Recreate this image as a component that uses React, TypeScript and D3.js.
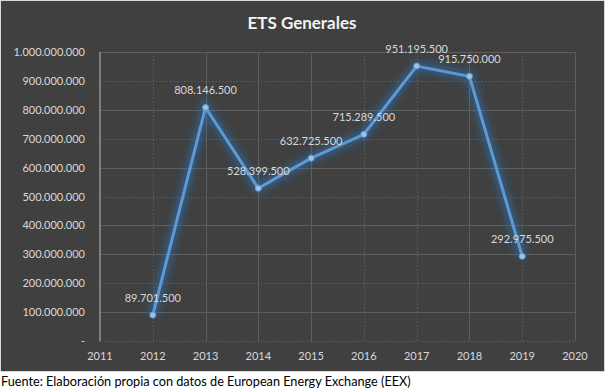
import React from "react";
import * as d3 from "d3";

const years = [2012, 2013, 2014, 2015, 2016, 2017, 2018, 2019];
const values = [89701500, 808146500, 528399500, 632725500, 715289500, 951195500, 915750000, 292975500];
const yTicks = [0, 100000000, 200000000, 300000000, 400000000, 500000000, 600000000, 700000000, 800000000, 900000000, 1000000000];
const xTicks = [2011, 2012, 2013, 2014, 2015, 2016, 2017, 2018, 2019, 2020];
// rows/columns that show as dotted in the original rendering
const dottedY = [0, 200000000, 500000000, 700000000, 900000000];
const dottedX = [2012, 2016, 2017, 2019];

const W = 605;
const H = 392;
const PANEL_H = 372;
const margin = { left: 100, right: 30, top: 52, bottom: 31 };
const font = "Lato, 'Open Sans', sans-serif";

const es = d3.formatLocale({ decimal: ",", thousands: ".", grouping: [3], currency: ["", "€"] });
const fmt = es.format(",.0f");

const App = () => {
  const x = d3.scaleLinear().domain([2011, 2020]).range([margin.left, W - margin.right]);
  const y = d3.scaleLinear().domain([0, 1000000000]).range([PANEL_H - margin.bottom, margin.top]);

  const pts = years.map((yr, i) => ({ yr, v: values[i] }));
  const line = d3.line<{ yr: number; v: number }>()
    .x(d => x(d.yr))
    .y(d => y(d.v));

  return (
    <svg width={W} height={H} style={{ position: "absolute", left: 0, top: 0, display: "block" }}>
      <defs>
        <filter id="glow" x="-20%" y="-20%" width="140%" height="140%">
          <feGaussianBlur stdDeviation="3.5" />
        </filter>
      </defs>
      <rect x={0} y={0} width={W} height={H} fill="#ffffff" />
      <rect x={0.5} y={0.5} width={W - 1} height={PANEL_H - 1} fill="#404040" stroke="#d9d9d9" strokeWidth={1} />

      <text x={302} y={29} textAnchor="middle" fontFamily={font} fontWeight="bold" fontSize={17} fill="#f2f2f2">
        ETS Generales
      </text>

      {yTicks.map(t => (
        <line key={"gy" + t} x1={x(2011)} x2={x(2020)} y1={Math.round(y(t)) + 0.5} y2={Math.round(y(t)) + 0.5}
          stroke="#5e5e5e" strokeWidth={1} strokeDasharray={dottedY.includes(t) ? "1.5,2" : undefined} />
      ))}
      {xTicks.map(t => (
        <line key={"gx" + t} x1={Math.round(x(t)) + 0.5} x2={Math.round(x(t)) + 0.5} y1={y(1000000000)} y2={y(0)}
          stroke="#5e5e5e" strokeWidth={1} strokeDasharray={dottedX.includes(t) ? "1.5,2" : undefined} />
      ))}
      <line x1={x(2011)} x2={x(2011)} y1={y(1000000000)} y2={y(0)} stroke="#7f7f7f" strokeWidth={2} />

      {yTicks.map(t => (
        <text key={"ty" + t} x={margin.left - 15} y={y(t) + 4} textAnchor="end" fontFamily={font} fontSize={11} fill="#d9d9d9">
          {t === 0 ? "-" : fmt(t)}
        </text>
      ))}
      {xTicks.map(t => (
        <text key={"tx" + t} x={x(t)} y={PANEL_H - 12} textAnchor="middle" fontFamily={font} fontSize={11} fill="#d9d9d9">
          {t}
        </text>
      ))}

      <path d={line(pts) ?? ""} fill="none" stroke="#1e90ff" strokeOpacity={0.3} strokeWidth={11} filter="url(#glow)" />
      <path d={line(pts) ?? ""} fill="none" stroke="#5b9bd5" strokeWidth={3} strokeLinejoin="round" />
      {pts.map(d => (
        <circle key={"c" + d.yr} cx={x(d.yr)} cy={y(d.v)} r={3} fill="#9dc3e6" stroke="#5b9bd5" strokeWidth={1} />
      ))}
      {pts.map(d => (
        <text key={"l" + d.yr} x={x(d.yr)} y={y(d.v) - 13} textAnchor="middle" fontFamily={font} fontSize={11} fill="#d9d9d9">
          {fmt(d.v)}
        </text>
      ))}

      <text x={1} y={386} fontFamily={font} fontSize={12.7} fill="#000000">
        Fuente: Elaboración propia con datos de European Energy Exchange (EEX)
      </text>
    </svg>
  );
};

export default App;
